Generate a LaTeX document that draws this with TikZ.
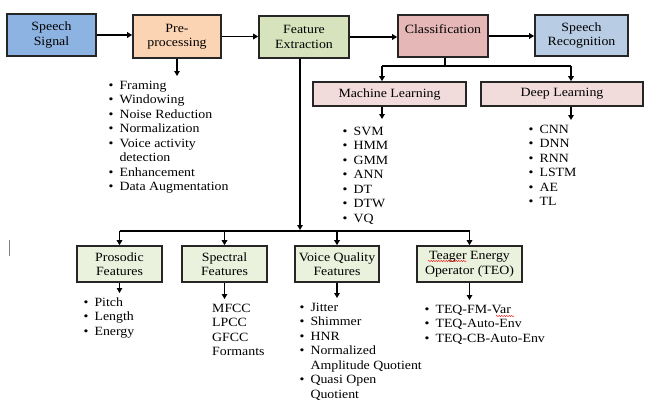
\documentclass[tikz,border=0pt]{standalone}
\usepackage{fontspec}
\setmainfont[FakeStretch=1.1]{Liberation Serif}
\usetikzlibrary{arrows.meta,decorations.pathmorphing}
\definecolor{sigblue}{HTML}{8DB3E2}
\definecolor{prepeach}{HTML}{FBD4B4}
\definecolor{fegreen}{HTML}{D6E3BC}
\definecolor{clsred}{HTML}{E5B8B7}
\definecolor{recblue}{HTML}{B8CCE4}
\definecolor{lrnpink}{HTML}{F2DBDB}
\definecolor{featgreen}{HTML}{EAF1DD}
\tikzset{
  box/.style={draw=black!85, line width=1.6pt, align=center, inner sep=0pt},
  arr/.style={-{Triangle[length=5pt,width=5.5pt]}, line width=1.3pt},
  items/.style={anchor=north west, inner sep=0pt, align=left},
}
\begin{document}
\begin{tikzpicture}[x=1pt,y=-1pt,font=\fontsize{12.6}{14.5}\selectfont]
        \useasboundingbox (0,0) rectangle (650,402);
        %top row
        \node[box, fill=sigblue, minimum width=89pt, minimum height=42pt] (sig) at (51.5,35) {Speech\\Signal};
        \node[box, fill=prepeach, minimum width=88pt, minimum height=43pt] (pre) at (177,36.5) {Pre-\\processing};
        \node[box, fill=fegreen, minimum width=90pt, minimum height=42pt] (fe) at (304,37) {Feature\\Extraction};
        \node[box, fill=clsred, minimum width=90pt, minimum height=42pt] (cls) at (443,36) {Classification\\ \mbox{}};
        \node[box, fill=recblue, minimum width=93pt, minimum height=41pt] (rec) at (581.5,35.5) {Speech\\Recognition};
        \draw[arr] (sig.east) -- (sig.east -| pre.west);
        \draw[arr] (pre.east) -- (pre.east -| fe.west);
        \draw[arr] (fe.east) -- (fe.east -| cls.west);
        \draw[arr] (cls.east) -- (cls.east -| rec.west);
        %pre-processing
        \node[items] (prel) at (108.5,79) {\begin{tabular}{@{}c@{\hspace{6pt}}l@{}}
          \textbullet & Framing\\ \textbullet & Windowing\\ \textbullet & Noise Reduction\\
          \textbullet & Normalization\\ \textbullet & Voice activity\\ & detection\\
          \textbullet & Enhancement\\ \textbullet & Data Augmentation\end{tabular}};
        \draw[arr, shorten >=3pt] (pre.south) -- (pre.south |- prel.north);
        %classification
        \node[box, fill=lrnpink, minimum width=153pt, minimum height=24pt] (ml) at (389.5,94) {Machine Learning};
        \node[box, fill=lrnpink, minimum width=162pt, minimum height=24pt] (dl) at (562,94) {Deep Learning};
        \coordinate (clsj) at (445,66);
        \coordinate (mlin) at (382,66);
        \coordinate (dlin) at (571,66);
        \draw[line width=1.3pt] (cls.south -| clsj) -- (clsj);
        \draw[line width=1.3pt] (mlin) -- (dlin);
        \draw[arr] (mlin) -- (mlin |- ml.north);
        \draw[arr] (dlin) -- (dlin |- dl.north);
        \node[items] (mll) at (342.5,125) {\begin{tabular}{@{}c@{\hspace{6pt}}l@{}}
          \textbullet & SVM\\ \textbullet & HMM\\ \textbullet & GMM\\ \textbullet & ANN\\
          \textbullet & DT\\ \textbullet & DTW\\ \textbullet & VQ\end{tabular}};
        \node[items] (dll) at (528.5,123) {\begin{tabular}{@{}c@{\hspace{6pt}}l@{}}
          \textbullet & CNN\\ \textbullet & DNN\\ \textbullet & RNN\\ \textbullet & LSTM\\
          \textbullet & AE\\ \textbullet & TL\end{tabular}};
        \draw[arr, shorten >=6pt] (ml.south -| mlin) -- (mlin |- mll.north);
        \draw[arr, shorten >=3pt] (dl.south -| dlin) -- (dlin |- dll.north);
        %features
        \node[box, fill=featgreen, minimum width=85pt, minimum height=36pt] (pros) at (119.5,264) {Prosodic\\Features};
        \node[box, fill=featgreen, minimum width=85pt, minimum height=36pt] (spec) at (224.5,264) {Spectral\\Features};
        \node[box, fill=featgreen, minimum width=84pt, minimum height=36pt] (vq) at (337,264) {Voice Quality\\Features};
        \node[box, fill=featgreen, minimum width=105pt, minimum height=36pt] (teo) at (469.5,264) {Teager Energy\\Operator (TEO)};
        \coordinate (fej) at (300,231);
        \draw[arr, shorten >=1pt] (fe.south -| fej) -- (fej);
        \draw[line width=1.3pt] (pros.north |- fej) -- (teo.north |- fej);
        \foreach \b in {pros,spec,vq,teo}
          \draw[arr] (\b.north |- fej) -- (\b.north);
        \node[items] (prosl) at (83.5,296) {\begin{tabular}{@{}c@{\hspace{6pt}}l@{}}
          \textbullet & Pitch\\ \textbullet & Length\\ \textbullet & Energy\end{tabular}};
        \node[items] (specl) at (212,302) {\begin{tabular}{@{}l@{}}
          MFCC\\ LPCC\\ GFCC\\ Formants\end{tabular}};
        \node[items] (vql) at (299.5,301) {\begin{tabular}{@{}c@{\hspace{6pt}}l@{}}
          \textbullet & Jitter\\ \textbullet & Shimmer\\ \textbullet & HNR\\
          \textbullet & Normalized\\ & Amplitude Quotient\\
          \textbullet & Quasi Open\\ & Quotient\end{tabular}};
        \node[items] (teol) at (424.5,303) {\begin{tabular}{@{}c@{\hspace{6pt}}l@{}}
          \textbullet & TEQ-FM-Var\\ \textbullet & TEQ-Auto-Env\\ \textbullet & TEQ-CB-Auto-Env\end{tabular}};
        \foreach \b in {pros,spec,vq,teo}
          \draw[arr, shorten >=3pt] (\b.south) -- (\b.south |- \b l.north);
        %spell marks
        \draw[red, line width=0.4pt, decorate, decoration={snake, amplitude=0.6pt, segment length=2.5pt}] (428,261) -- (467,261);
        \draw[red, line width=0.4pt, decorate, decoration={snake, amplitude=0.6pt, segment length=2.5pt}] (496,316) -- (514,316);
        \draw[gray, line width=1pt] (9,240) -- (9,256);
    \end{tikzpicture}
\end{document}
